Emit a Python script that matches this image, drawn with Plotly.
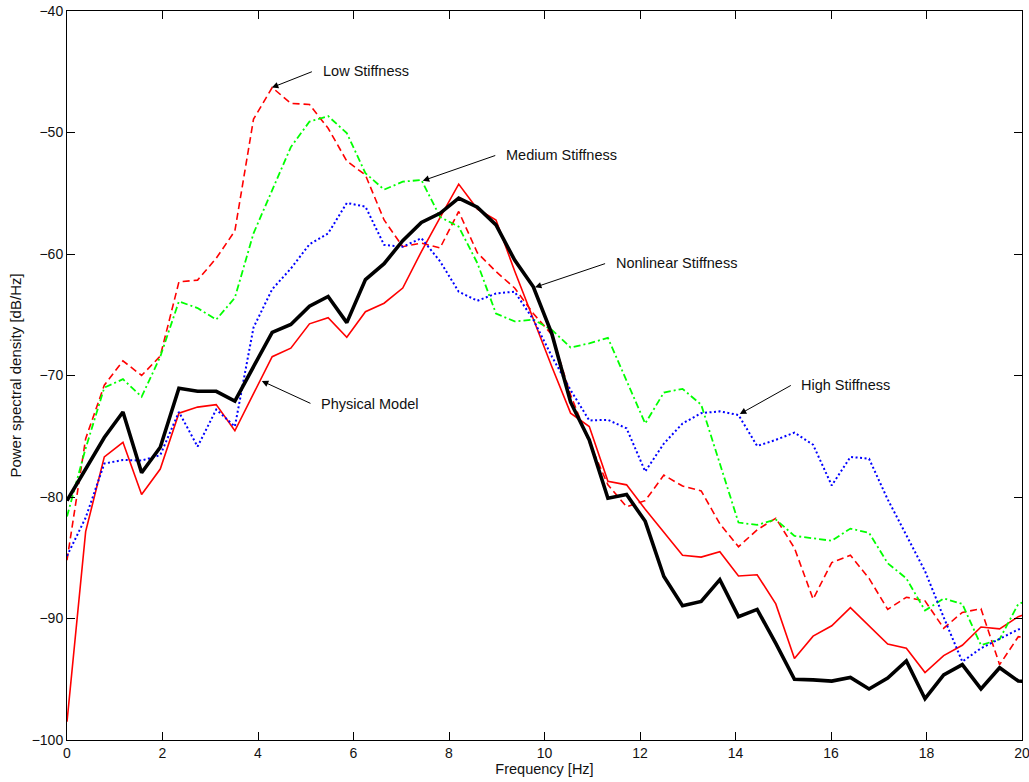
import numpy as np
import plotly.graph_objects as go

# Welch PSD frequency bins (fs = 100 Hz, nfft = 256), first 53 bins
fs = 100.0
nfft = 256
freq = np.arange(53) * fs / nfft

physical_model = [
    -98.5, -82.85, -76.7, -75.5, -79.8, -77.7, -73.1, -72.6, -72.4, -74.55,
    -71.5, -68.45, -67.75, -65.75, -65.25, -66.85, -64.75, -64.05, -62.8, -59.8,
    -57.0, -54.25, -56.3, -57.2, -61.4, -65.4, -69.3, -73.1, -74.2, -78.7,
    -79.0, -81.0, -82.95, -84.8, -84.95, -84.5, -86.5, -86.4, -88.8, -93.3,
    -91.45, -90.6, -89.1, -90.6, -92.1, -92.45, -94.45, -93.05, -92.2, -90.7,
    -90.85, -89.85, -89.3,
]

low_stiffness = [
    -85.2, -75.2, -70.8, -68.8, -70.0, -68.4, -62.3, -62.15, -60.35, -58.1,
    -48.9, -46.3, -47.6, -47.7, -49.65, -52.35, -53.5, -57.2, -59.4, -59.1,
    -59.5, -56.5, -59.9, -61.45, -62.8, -64.9, -66.65, -71.6, -75.5, -79.0,
    -80.8, -80.3, -78.2, -79.1, -79.5, -82.2, -84.1, -82.7, -81.75, -84.2,
    -88.4, -85.4, -84.8, -86.7, -89.25, -88.25, -88.55, -90.8, -89.5, -89.2,
    -93.8, -91.5, -91.7,
]

medium_stiffness = [
    -81.6, -76.0, -71.0, -70.3, -71.75, -68.45, -63.9, -64.45, -65.4, -63.6,
    -58.3, -54.7, -51.2, -49.1, -48.65, -50.05, -53.35, -54.7, -54.05, -53.9,
    -56.95, -57.75, -60.75, -64.9, -65.55, -65.4, -66.25, -67.7, -67.35, -66.9,
    -70.5, -73.95, -71.4, -71.1, -72.4, -77.3, -82.1, -82.3, -81.85, -83.2,
    -83.4, -83.6, -82.6, -82.95, -85.45, -86.7, -89.35, -88.35, -88.8, -92.2,
    -91.7, -88.8, -88.3,
]

high_stiffness = [
    -84.85, -81.7, -77.25, -76.95, -77.0, -76.55, -73.0, -75.85, -72.8, -74.2,
    -66.05, -62.9, -61.2, -59.2, -58.3, -55.8, -56.1, -59.25, -59.4, -58.7,
    -60.6, -63.1, -63.85, -63.25, -63.1, -65.4, -68.45, -71.2, -73.7, -73.65,
    -74.35, -77.9, -75.6, -73.95, -73.1, -72.95, -73.25, -75.8, -75.3, -74.7,
    -75.7, -79.05, -76.7, -76.85, -80.2, -83.1, -86.1, -89.9, -93.55, -92.45,
    -91.7, -90.9, -90.6,
]

nonlinear_stiffness = [
    -80.3, -77.7, -75.1, -73.0, -78.0, -75.9, -71.05, -71.3, -71.3, -72.1,
    -69.3, -66.45, -65.8, -64.3, -63.5, -65.65, -62.1, -60.8, -58.9, -57.4,
    -56.65, -55.4, -56.15, -57.6, -60.5, -62.7, -66.6, -72.2, -75.3, -80.1,
    -79.8, -82.0, -86.55, -88.95, -88.6, -86.8, -89.85, -89.25, -92.05, -95.0,
    -95.05, -95.15, -94.85, -95.8, -94.9, -93.5, -96.6, -94.65, -93.8, -95.8,
    -94.05, -95.15, -95.2,
]

# (label, arrow tip x, tip y, text x, text y)
labels = [
    ("Low Stiffness", 4.29, -46.3, 5.16, -44.95),
    ("Medium Stiffness", 7.45, -53.97, 9.0, -51.85),
    ("Nonlinear Stiffness", 9.80, -62.74, 11.30, -60.75),
    ("High Stiffness", 14.09, -73.17, 15.19, -70.75),
    ("Physical Model", 4.08, -70.45, 5.13, -72.35),
]

FONT = "Liberation Sans, Arial, Helvetica, sans-serif"

fig = go.Figure()

fig.add_trace(go.Scatter(x=freq, y=physical_model, mode="lines",
                         line=dict(color="#ff0000", width=1.6)))
fig.add_trace(go.Scatter(x=freq, y=low_stiffness, mode="lines",
                         line=dict(color="#ff0000", width=1.6, dash="7px,4px")))
fig.add_trace(go.Scatter(x=freq, y=medium_stiffness, mode="lines",
                         line=dict(color="#00ff00", width=1.8, dash="7px,3px,2px,3px")))
fig.add_trace(go.Scatter(x=freq, y=high_stiffness, mode="lines",
                         line=dict(color="#0000ff", width=2, dash="2px,2.5px")))
fig.add_trace(go.Scatter(x=freq, y=nonlinear_stiffness, mode="lines",
                         line=dict(color="#000000", width=3.6)))

for text, tx, ty, ax, ay in labels:
    # arrow from the label towards the curve
    fig.add_annotation(x=tx, y=ty, ax=ax, ay=ay, xref="x", yref="y",
                       axref="x", ayref="y", text="", showarrow=True,
                       arrowhead=2, arrowsize=1.3, arrowwidth=1,
                       arrowcolor="black", standoff=0, startstandoff=0)
    fig.add_annotation(x=ax + 0.15, y=ay, xref="x", yref="y", text=text,
                       showarrow=False, xanchor="left", yanchor="middle",
                       font=dict(family=FONT, size=14.5, color="#111111"))

axis_common = dict(
    showline=True, linecolor="black", linewidth=1, mirror="ticks",
    ticks="inside", ticklen=8, tickwidth=1, tickcolor="black",
    showgrid=False, zeroline=False, automargin=False,
    ticklabeloverflow="allow",
    tickfont=dict(family=FONT, size=14, color="#111111"),
)

fig.update_layout(
    width=1029, height=782,
    margin=dict(l=67, r=7, t=11, b=42),
    paper_bgcolor="white", plot_bgcolor="white",
    showlegend=False,
    xaxis=dict(range=[0, 20], dtick=2, tick0=0,
               title=dict(text="Frequency [Hz]", standoff=0,
                          font=dict(family=FONT, size=14.5, color="#111111")),
               **axis_common),
    yaxis=dict(range=[-100, -40], dtick=10, tick0=-100,
               title=dict(text="Power spectral density [dB/Hz]", standoff=6,
                          font=dict(family=FONT, size=15, color="#111111")),
               **axis_common),
)

fig.write_html("out.html")
